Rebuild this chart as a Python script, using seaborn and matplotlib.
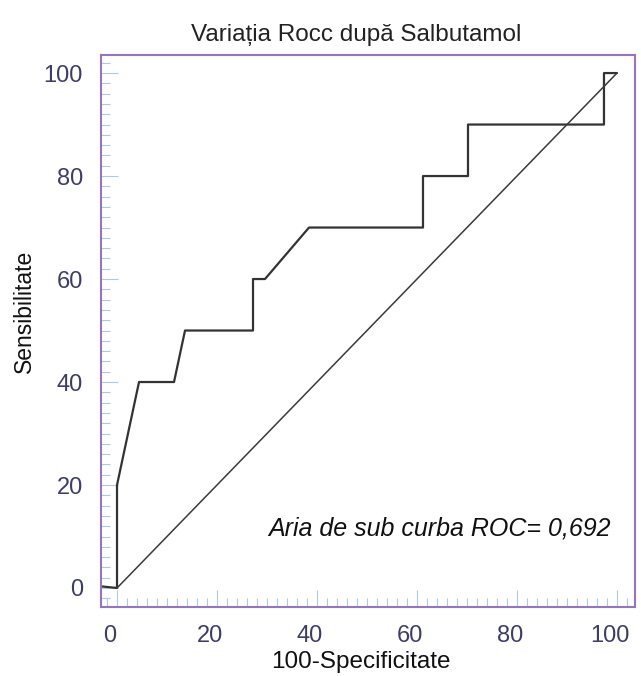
import matplotlib
matplotlib.use("Agg")
import matplotlib.pyplot as plt
import matplotlib.transforms as mtrans
import seaborn as sns
from matplotlib.ticker import MultipleLocator

# Dati curva ROC
specif_100 = [-3.0, 0.0, 0.0, 4.4, 11.4, 13.6, 27.2, 27.2, 29.6, 38.4, 61.2, 61.2, 70.2, 70.2, 97.4, 97.4, 100.0]
sensib = [0.3, 0.0, 20.0, 40.0, 40.0, 50.0, 50.0, 60.0, 60.0, 70.0, 70.0, 80.0, 80.0, 90.0, 90.0, 100.0, 100.0]
diag_x = [0, 100]
diag_y = [0, 100]
ticks = [0, 20, 40, 60, 80, 100]

sns.set_style("white")
plt.rcParams['font.family'] = ['Liberation Sans', 'DejaVu Sans']

fig = plt.figure(figsize=(6.41, 6.76), dpi=100)
ax = fig.add_axes([0.1576, 0.102, 0.833, 0.8166])

sns.lineplot(x=specif_100, y=sensib, sort=False, estimator=None, color='#333333', linewidth=1.6, ax=ax)
sns.lineplot(x=diag_x, y=diag_y, sort=False, estimator=None, color='#3a3a3a', linewidth=1.1, ax=ax)

ax.set_xlim(-3.2, 103.6)
ax.set_ylim(-3.7, 103.5)
ax.set_xticks(ticks)
ax.set_yticks(ticks)
ax.xaxis.set_minor_locator(MultipleLocator(2))
ax.yaxis.set_minor_locator(MultipleLocator(2))

for s in ax.spines.values():
    s.set_color('#9673c3')
    s.set_linewidth(1.5)

ax.tick_params(which='major', direction='in', length=12, width=0.8, color='#a9cbe9',
               labelsize=17, labelcolor='#3d3d6b', pad=13,
               bottom=True, left=True, top=False, right=False)
ax.tick_params(which='minor', direction='in', length=6.5, width=0.8, color='#a9cbe9',
               bottom=True, left=True, top=False, right=False)

# etichette asse x leggermente spostate a sinistra come nell'originale
shift = mtrans.ScaledTranslation(-7 / 100, 0, fig.dpi_scale_trans)
for lbl in ax.get_xticklabels():
    lbl.set_transform(lbl.get_transform() + shift)

ax.set_title('Variația Rocc după Salbutamol', fontsize=17.5, color='#222222', pad=10, x=0.477)
ax.set_xlabel('100-Specificitate', fontsize=17.5, color='#111111', va='center')
ax.xaxis.set_label_coords(0.487, -0.1)
ax.set_ylabel('Sensibilitate', fontsize=16.5, color='#111111')
ax.yaxis.set_label_coords(-0.122, 0.535)

ax.text(98.8, 11.5, 'Aria de sub curba ROC= 0,692', fontsize=18, style='italic',
        color='#111111', ha='right', va='center')

fig.savefig('out.png', dpi=100)
